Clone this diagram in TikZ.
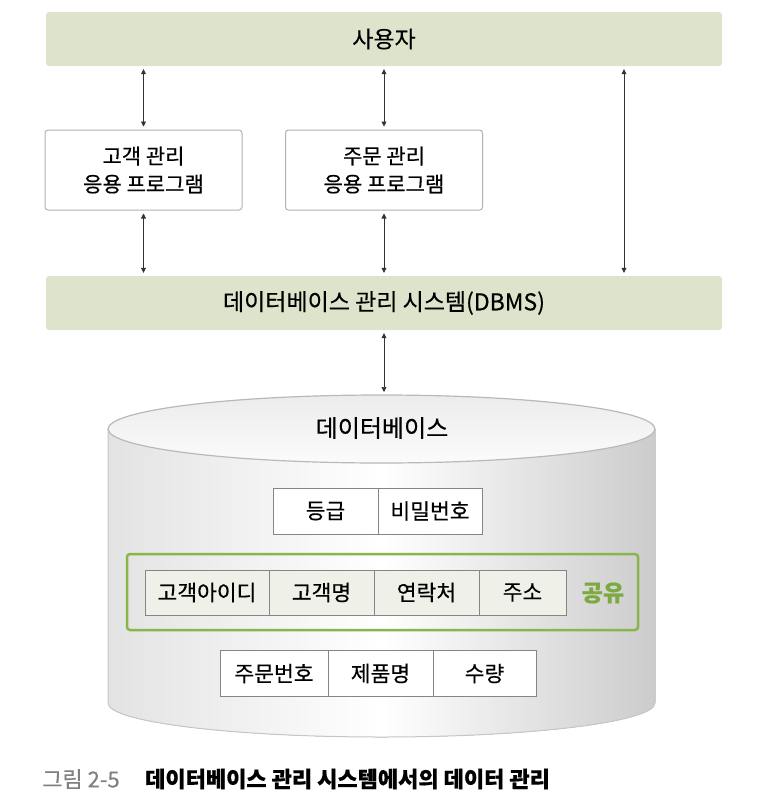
\documentclass[tikz,border=0pt]{standalone}
\usepackage{fontspec}
\setmainfont{Noto Sans CJK KR}[FakeBold=0.4]
\usetikzlibrary{calc}
\usetikzlibrary{arrows.meta}
\definecolor{barfill}{HTML}{DDE4CB}
\definecolor{shareline}{HTML}{8AB54A}
\definecolor{sharetext}{HTML}{7DAA40}
\definecolor{cellfill}{HTML}{EFF1E8}
\definecolor{cellline}{HTML}{858585}

\begin{document}
\begin{tikzpicture}[x=1pt,y=-1pt,inner sep=0pt,
  bar/.style={fill=barfill,rounded corners=3pt,minimum width=676pt,minimum height=54pt,font=\fontsize{23}{26}\selectfont},
  appbox/.style={draw=gray!60,line width=1pt,fill=white,rounded corners=3pt,minimum width=197pt,minimum height=80pt,align=center,font=\fontsize{21}{28}\selectfont},
  cell/.style={draw=cellline,line width=1pt,fill=white,minimum height=46pt,font=\fontsize{21.5}{24}\selectfont},
  link/.style={{Triangle[length=5pt,width=5pt]}-{Triangle[length=5pt,width=5pt]},line width=0.7pt,draw=black!80,shorten <=3pt,shorten >=3pt}]
\useasboundingbox (0,0) rectangle (782,793);

\node[bar] (user) at (384,39) {사용자};
\node[appbox] (custapp) at (143.5,170) {고객 관리\\응용 프로그램};
\node[appbox] (ordapp) at (384,170) {주문 관리\\응용 프로그램};
\node[bar] (dbms) at (384,303) {데이터베이스 관리 시스템(DBMS)};
\coordinate (direct) at (624,0);

\draw[link] (user.south -| custapp.north) -- (custapp.north);
\draw[link] (custapp.south) -- (dbms.north -| custapp.south);
\draw[link] (user.south -| ordapp.north) -- (ordapp.north);
\draw[link] (ordapp.south) -- (dbms.north -| ordapp.south);
\draw[link] (user.south -| direct) -- (dbms.north -| direct);

% database cylinder
\fill[left color=gray!22,right color=gray!40,middle color=white] (108,429) -- (108,703) arc[start angle=180,end angle=360,x radius=273.5pt,y radius=34pt] -- (655,429) -- cycle;
\draw[gray!45,line width=1pt] (108,429) -- (108,703) arc[start angle=180,end angle=360,x radius=273.5pt,y radius=34pt] -- (655,429);
\draw[gray!55,line width=1.2pt,top color=gray!15,bottom color=gray!3] (381.5,429) ellipse[x radius=273.5pt,y radius=34pt];
\coordinate (dbtop) at (381.5,395);
\draw[link] (dbms.south -| ordapp.south) -- (dbtop -| ordapp.south);
\node[font=\fontsize{24}{26}\selectfont] (dblabel) at (382,428) {데이터베이스};

\node[cell,minimum width=105pt] (grade) at (325.5,511) {등급};
\node[cell,minimum width=104pt] (pw) at (430,511) {비밀번호};

\node[draw=shareline,line width=2.5pt,rounded corners=3pt,minimum width=511pt,minimum height=76pt] (shared) at (382.5,592) {};
\node[cell,fill=cellfill,minimum width=124pt,minimum height=45pt] (custid) at (207,592.5) {고객아이디};
\node[cell,fill=cellfill,minimum width=105pt,minimum height=45pt] (custname) at (321.5,592.5) {고객명};
\node[cell,fill=cellfill,minimum width=105pt,minimum height=45pt] (contact) at (426.5,592.5) {연락처};
\node[cell,fill=cellfill,minimum width=87pt,minimum height=45pt] (addr) at (522.5,592.5) {주소};
\node[text=sharetext,font=\fontsize{23}{26}\selectfont\bfseries] (sharelabel) at (603,593) {공유};

\node[cell,minimum width=108pt] (ordno) at (274,673.5) {주문번호};
\node[cell,minimum width=105pt] (product) at (380.5,673.5) {제품명};
\node[cell,minimum width=103pt] (qty) at (484.5,673.5) {수량};

\node[anchor=west,text=gray,font=\fontsize{22}{24}\selectfont] (fignum) at (42,779) {그림 2-5};
\node[anchor=west,font=\fontsize{22}{24}\selectfont\bfseries] (caption) at (145,779) {데이터베이스 관리 시스템에서의 데이터 관리};
\end{tikzpicture}
\end{document}
